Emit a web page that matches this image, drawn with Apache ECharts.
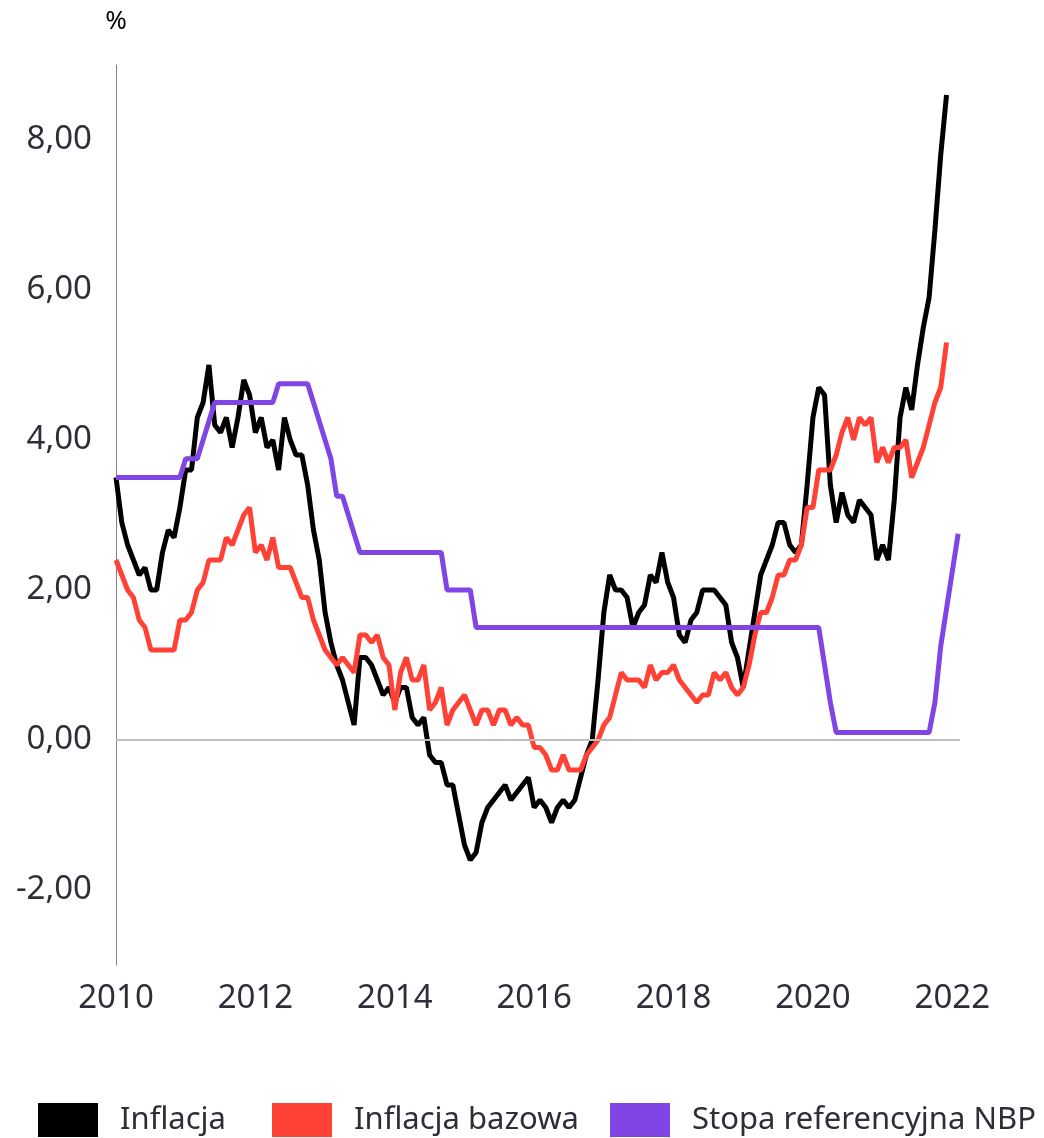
<!DOCTYPE html>
<html>
<head>
<meta charset="utf-8">
<script src="https://cdn.jsdelivr.net/npm/echarts@6/dist/echarts.min.js"></script>
<style>
  html, body { margin: 0; padding: 0; background: #fff; }
  #chart { width: 1044px; height: 1138px; }
</style>
</head>
<body>
<div id="chart"></div>
<script>
// monthly data, first point = January 2010
const startYear = 2010;

// CPI y/y, Jan 2010 - Dec 2021
const inflacja = [
  3.5, 2.9, 2.6, 2.4, 2.2, 2.3, 2.0, 2.0, 2.5, 2.8, 2.7, 3.1,
  3.6, 3.6, 4.3, 4.5, 5.0, 4.2, 4.1, 4.3, 3.9, 4.3, 4.8, 4.6,
  4.1, 4.3, 3.9, 4.0, 3.6, 4.3, 4.0, 3.8, 3.8, 3.4, 2.8, 2.4,
  1.7, 1.3, 1.0, 0.8, 0.5, 0.2, 1.1, 1.1, 1.0, 0.8, 0.6, 0.7,
  0.5, 0.7, 0.7, 0.3, 0.2, 0.3, -0.2, -0.3, -0.3, -0.6, -0.6, -1.0,
  -1.4, -1.6, -1.5, -1.1, -0.9, -0.8, -0.7, -0.6, -0.8, -0.7, -0.6, -0.5,
  -0.9, -0.8, -0.9, -1.1, -0.9, -0.8, -0.9, -0.8, -0.5, -0.2, 0.0, 0.8,
  1.7, 2.2, 2.0, 2.0, 1.9, 1.5, 1.7, 1.8, 2.2, 2.1, 2.5, 2.1,
  1.9, 1.4, 1.3, 1.6, 1.7, 2.0, 2.0, 2.0, 1.9, 1.8, 1.3, 1.1,
  0.7, 1.2, 1.7, 2.2, 2.4, 2.6, 2.9, 2.9, 2.6, 2.5, 2.6, 3.4,
  4.3, 4.7, 4.6, 3.4, 2.9, 3.3, 3.0, 2.9, 3.2, 3.1, 3.0, 2.4,
  2.6, 2.4, 3.2, 4.3, 4.7, 4.4, 5.0, 5.5, 5.9, 6.8, 7.8, 8.6
];

// core inflation, Jan 2010 - Dec 2021
const inflacjaBazowa = [
  2.4, 2.2, 2.0, 1.9, 1.6, 1.5, 1.2, 1.2, 1.2, 1.2, 1.2, 1.6,
  1.6, 1.7, 2.0, 2.1, 2.4, 2.4, 2.4, 2.7, 2.6, 2.8, 3.0, 3.1,
  2.5, 2.6, 2.4, 2.7, 2.3, 2.3, 2.3, 2.1, 1.9, 1.9, 1.6, 1.4,
  1.2, 1.1, 1.0, 1.1, 1.0, 0.9, 1.4, 1.4, 1.3, 1.4, 1.1, 1.0,
  0.4, 0.9, 1.1, 0.8, 0.8, 1.0, 0.4, 0.5, 0.7, 0.2, 0.4, 0.5,
  0.6, 0.4, 0.2, 0.4, 0.4, 0.2, 0.4, 0.4, 0.2, 0.3, 0.2, 0.2,
  -0.1, -0.1, -0.2, -0.4, -0.4, -0.2, -0.4, -0.4, -0.4, -0.2, -0.1, 0.0,
  0.2, 0.3, 0.6, 0.9, 0.8, 0.8, 0.8, 0.7, 1.0, 0.8, 0.9, 0.9,
  1.0, 0.8, 0.7, 0.6, 0.5, 0.6, 0.6, 0.9, 0.8, 0.9, 0.7, 0.6,
  0.7, 1.0, 1.4, 1.7, 1.7, 1.9, 2.2, 2.2, 2.4, 2.4, 2.6, 3.1,
  3.1, 3.6, 3.6, 3.6, 3.8, 4.1, 4.3, 4.0, 4.3, 4.2, 4.3, 3.7,
  3.9, 3.7, 3.9, 3.9, 4.0, 3.5, 3.7, 3.9, 4.2, 4.5, 4.7, 5.3
];

// NBP reference rate, Jan 2010 - Feb 2022
const stopaReferencyjna = [
  3.5, 3.5, 3.5, 3.5, 3.5, 3.5, 3.5, 3.5, 3.5, 3.5, 3.5, 3.5,
  3.75, 3.75, 3.75, 4.0, 4.25, 4.5, 4.5, 4.5, 4.5, 4.5, 4.5, 4.5,
  4.5, 4.5, 4.5, 4.5, 4.75, 4.75, 4.75, 4.75, 4.75, 4.75, 4.5, 4.25,
  4.0, 3.75, 3.25, 3.25, 3.0, 2.75, 2.5, 2.5, 2.5, 2.5, 2.5, 2.5,
  2.5, 2.5, 2.5, 2.5, 2.5, 2.5, 2.5, 2.5, 2.5, 2.0, 2.0, 2.0,
  2.0, 2.0, 1.5, 1.5, 1.5, 1.5, 1.5, 1.5, 1.5, 1.5, 1.5, 1.5,
  1.5, 1.5, 1.5, 1.5, 1.5, 1.5, 1.5, 1.5, 1.5, 1.5, 1.5, 1.5,
  1.5, 1.5, 1.5, 1.5, 1.5, 1.5, 1.5, 1.5, 1.5, 1.5, 1.5, 1.5,
  1.5, 1.5, 1.5, 1.5, 1.5, 1.5, 1.5, 1.5, 1.5, 1.5, 1.5, 1.5,
  1.5, 1.5, 1.5, 1.5, 1.5, 1.5, 1.5, 1.5, 1.5, 1.5, 1.5, 1.5,
  1.5, 1.5, 1.0, 0.5, 0.1, 0.1, 0.1, 0.1, 0.1, 0.1, 0.1, 0.1,
  0.1, 0.1, 0.1, 0.1, 0.1, 0.1, 0.1, 0.1, 0.1, 0.5, 1.25, 1.75,
  2.25, 2.75
];

const xTicks = [2010, 2012, 2014, 2016, 2018, 2020, 2022];
const yTicks = [-2, 0, 2, 4, 6, 8];
const seriesNames = ['Inflacja', 'Inflacja bazowa', 'Stopa referencyjna NBP'];
const seriesColors = ['#000000', '#ff4136', '#8145e6'];
const legendLeft = [38, 272, 610];

const FONT = '"Noto Sans", "Open Sans", sans-serif';
const TEXT_COLOR = '#2e2e38';

const toPoints = arr => arr.map((v, i) => [startYear + i / 12, v]);

const chart = echarts.init(document.getElementById('chart'), null, { renderer: 'canvas' });

const lineSeries = (name, values, color, extra) => Object.assign({
  name: name,
  type: 'line',
  data: toPoints(values),
  showSymbol: false,
  symbol: 'none',
  lineStyle: { color: color, width: 5 },
  itemStyle: { color: color },
  emphasis: { disabled: true }
}, extra || {});

const option = {
  animation: false,
  backgroundColor: '#ffffff',
  textStyle: { fontFamily: FONT },
  grid: { left: 116, right: 84, top: 65, bottom: 173, containLabel: false },
  xAxis: {
    type: 'value',
    min: 2010,
    max: 2022.11,
    interval: 2,
    axisLine: { show: false },
    axisTick: { show: false },
    splitLine: { show: false },
    axisLabel: {
      color: TEXT_COLOR,
      fontFamily: FONT,
      fontSize: 33,
      margin: 17,
      formatter: v => (xTicks.indexOf(v) >= 0 ? String(v) : '')
    }
  },
  yAxis: {
    type: 'value',
    min: -3,
    max: 9,
    interval: 1,
    name: '%',
    nameLocation: 'end',
    nameGap: 30,
    nameTextStyle: { color: '#000', fontFamily: FONT, fontSize: 26, align: 'center' },
    axisLine: { show: true, onZero: false, lineStyle: { color: '#80808a', width: 1 } },
    axisTick: { show: false },
    splitLine: { show: false },
    axisLabel: {
      color: TEXT_COLOR,
      fontFamily: FONT,
      fontSize: 33,
      margin: 24,
      formatter: v => (yTicks.indexOf(v) >= 0 ? v.toFixed(2).replace('.', ',') : '')
    }
  },
  legend: seriesNames.map((name, i) => ({
    data: [name],
    left: legendLeft[i],
    top: 1103,
    icon: 'rect',
    itemWidth: 60,
    itemHeight: 34,
    padding: 0,
    selectedMode: false,
    textStyle: { color: TEXT_COLOR, fontFamily: FONT, fontSize: 31, padding: [0, 0, 0, 17] }
  })),
  series: [
    lineSeries(seriesNames[0], inflacja, seriesColors[0], {
      markLine: {
        silent: true,
        symbol: 'none',
        label: { show: false },
        lineStyle: { color: '#bdbdc2', width: 2, type: 'solid' },
        data: [{ yAxis: 0 }]
      }
    }),
    lineSeries(seriesNames[1], inflacjaBazowa, seriesColors[1]),
    lineSeries(seriesNames[2], stopaReferencyjna, seriesColors[2])
  ]
};

chart.setOption(option);
</script>
</body>
</html>
